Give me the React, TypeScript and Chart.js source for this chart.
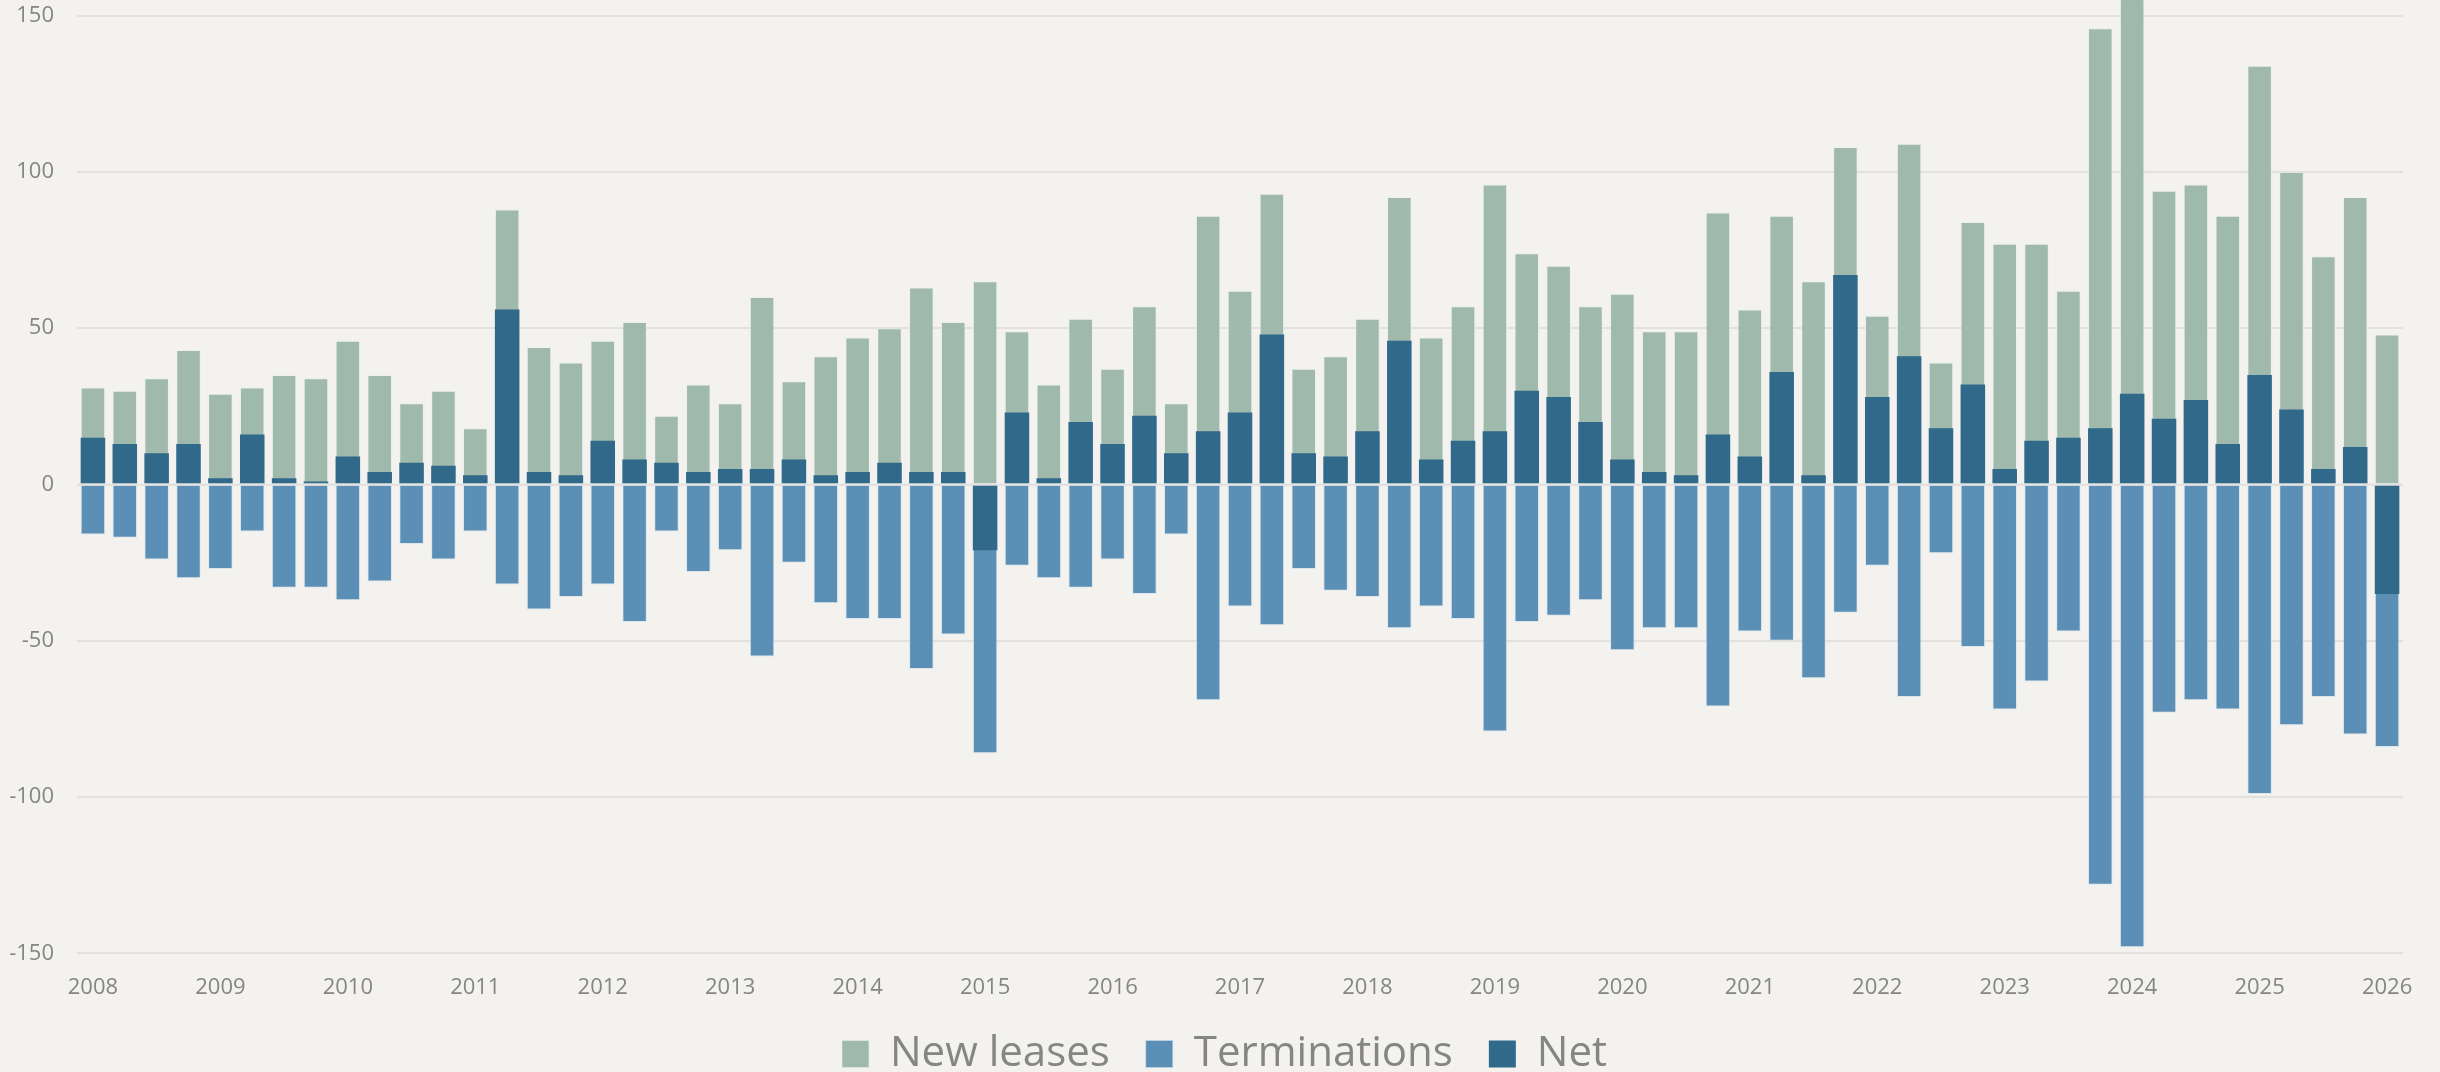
import React, { useEffect, useRef } from "react";
import { Chart, registerables } from "chart.js";

Chart.register(...registerables);

const YEARS = ["2008","2009","2010","2011","2012","2013","2014","2015","2016","2017","2018","2019","2020","2021","2022","2023","2024","2025","2026"];
const QUARTERS = ["Q1", "Q2", "Q3", "Q4"];

const NEW_LEASES = [
  31, 30, 34, 43, 29, 31, 35, 34, 46, 35, 26, 30, 18, 88, 44, 39,
  46, 52, 22, 32, 26, 60, 33, 41, 47, 50, 63, 52, 65, 49, 32, 53,
  37, 57, 26, 86, 62, 93, 37, 41, 53, 92, 47, 57, 96, 74, 70, 57,
  61, 49, 49, 87, 56, 86, 65, 108, 54, 109, 39, 84, 77, 77, 62, 146,
  177, 94, 96, 86, 134, 100, 73, 92, 48,
];
const TERMINATIONS = [
  -16, -17, -24, -30, -27, -15, -33, -33, -37, -31, -19, -24, -15, -32, -40, -36,
  -32, -44, -15, -28, -21, -55, -25, -38, -43, -43, -59, -48, -86, -26, -30, -33,
  -24, -35, -16, -69, -39, -45, -27, -34, -36, -46, -39, -43, -79, -44, -42, -37,
  -53, -46, -46, -71, -47, -50, -62, -41, -26, -68, -22, -52, -72, -63, -47, -128,
  -148, -73, -69, -72, -99, -77, -68, -80, -84,
];
const NET = [
  15, 13, 10, 13, 2, 16, 2, 1, 9, 4, 7, 6, 3, 56, 4, 3,
  14, 8, 7, 4, 5, 5, 8, 3, 4, 7, 4, 4, -21, 23, 2, 20,
  13, 22, 10, 17, 23, 48, 10, 9, 17, 46, 8, 14, 17, 30, 28, 20,
  8, 4, 3, 16, 9, 36, 3, 67, 28, 41, 18, 32, 5, 14, 15, 18,
  29, 21, 27, 13, 35, 24, 5, 12, -35,
];

const CATEGORIES: string[] = [];
YEARS.forEach((y) => QUARTERS.forEach((q) => CATEGORIES.push(y + " " + q)));
const LABELS = CATEGORIES.slice(0, NEW_LEASES.length);

const SERIES_NAMES = ["New leases", "Terminations", "Net"];
const COLORS = ["#9fb9ad", "#5c8fb5", "#31698a"];

const BG = "#f3f2ee";
const TEXT = "#858585";
const FONT = "'Open Sans', 'Liberation Sans', sans-serif";

const zeroLinePlugin = {
  id: "zeroLine",
  afterDatasetsDraw(chart: any) {
    const { ctx, chartArea, scales } = chart;
    const y = scales.y.getPixelForValue(0);
    ctx.save();
    ctx.strokeStyle = "#e2e2e2";
    ctx.lineWidth = 2;
    ctx.beginPath();
    ctx.moveTo(chartArea.left, y);
    ctx.lineTo(chartArea.right, y);
    ctx.stroke();
    ctx.restore();
  },
};

export default function App() {
  const ref = useRef<HTMLCanvasElement | null>(null);

  useEffect(() => {
    if (!ref.current) return;
    const chart = new Chart(ref.current, {
      type: "bar",
      data: {
        labels: LABELS,
        datasets: [
          {
            label: SERIES_NAMES[0],
            data: NEW_LEASES,
            backgroundColor: COLORS[0],
            borderColor: "rgba(230,236,233,0.55)",
            borderWidth: 1,
            order: 3,
          },
          {
            label: SERIES_NAMES[1],
            data: TERMINATIONS,
            backgroundColor: COLORS[1],
            borderColor: "rgba(200,220,235,0.55)",
            borderWidth: 1,
            order: 2,
          },
          {
            label: SERIES_NAMES[2],
            data: NET,
            backgroundColor: COLORS[2],
            borderWidth: 0,
            order: 1,
          },
        ],
      },
      options: {
        animation: false,
        responsive: true,
        maintainAspectRatio: false,
        layout: { padding: { left: 9, right: 0, top: 0, bottom: 0 } },
        datasets: {
          bar: {
            grouped: false,
            barPercentage: 0.77,
            categoryPercentage: 1,
          },
        },
        plugins: {
          tooltip: { enabled: false },
          legend: {
            position: "bottom",
            labels: {
              color: TEXT,
              font: { family: FONT, size: 42 },
              boxWidth: 27,
              boxHeight: 27,
              padding: 36,
              sort: (a: any, b: any) => a.datasetIndex - b.datasetIndex,
            },
          },
        },
        scales: {
          x: {
            offset: true,
            grid: { display: false, drawTicks: false },
            border: { display: false },
            ticks: {
              color: TEXT,
              font: { family: FONT, size: 22 },
              padding: 21,
              autoSkip: false,
              maxRotation: 0,
              minRotation: 0,
              callback: (_v: any, i: number) => (i % 4 === 0 ? LABELS[i].slice(0, 4) : ""),
            },
            afterFit: (s: any) => {
              s.height = 43.6;
              s.paddingLeft = 0;
              s.paddingRight = 37;
            },
          },
          y: {
            min: -150,
            max: 155,
            grid: { color: "#e2e1de", lineWidth: 2, drawTicks: false },
            border: { display: false },
            ticks: {
              stepSize: 50,
              includeBounds: false,
              color: TEXT,
              font: { family: FONT, size: 22 },
              padding: 23,
            },
            afterFit: (s: any) => {
              s.width = 68;
              s.paddingTop = 0;
              s.paddingBottom = 0;
            },
          },
        },
      },
      plugins: [zeroLinePlugin],
    });
    return () => chart.destroy();
  }, []);

  return (
    <div
      style={{
        position: "fixed",
        left: 0,
        top: 0,
        width: 2440,
        height: 1085,
        background: BG,
      }}
    >
      <canvas ref={ref} />
    </div>
  );
}
